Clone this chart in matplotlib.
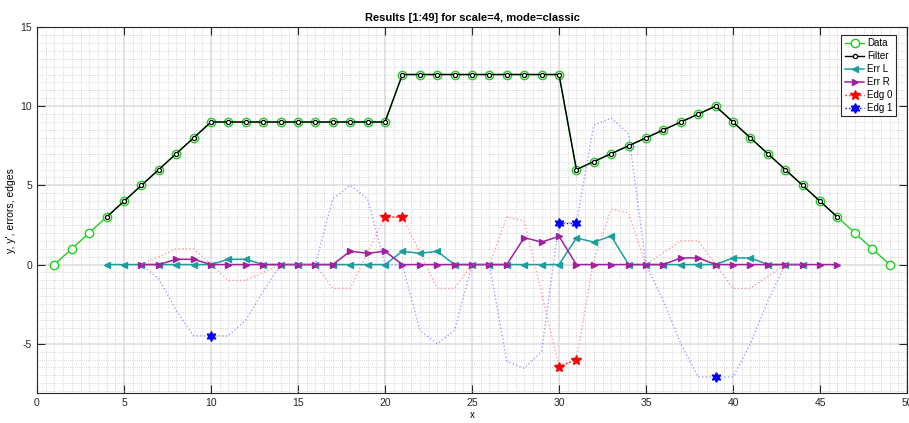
import numpy as np
import matplotlib
matplotlib.use("Agg")
import matplotlib.pyplot as plt
from matplotlib.ticker import MultipleLocator

plt.rcParams['font.family'] = ['Liberation Sans', 'DejaVu Sans']
plt.rcParams['axes.unicode_minus'] = False

# data
x_data = np.arange(1, 50)
y_data = [0, 1, 2, 3, 4, 5, 6, 7, 8, 9,
          9, 9, 9, 9, 9, 9, 9, 9, 9, 9,
          12, 12, 12, 12, 12, 12, 12, 12, 12, 12,
          6, 6.5, 7, 7.5, 8, 8.5, 9, 9.5, 10,
          9, 8, 7, 6, 5, 4, 3, 2, 1, 0]

x_filter = np.arange(4, 47)
y_filter = y_data[3:46]

x_errl = np.arange(4, 45)
y_errl = [0, 0, 0, 0, 0, 0, 0, 0.33, 0.33, 0,
          0, 0, 0, 0, 0, 0, 0, 0.84, 0.71, 0.84,
          0, 0, 0, 0, 0, 0, 0, 1.68, 1.42, 1.8,
          0, 0, 0, 0, 0, 0, 0.42, 0.42, 0, 0, 0]

x_errr = np.arange(6, 47)
y_errr = [0, 0, 0.33, 0.33, 0, 0, 0, 0, 0, 0,
          0, 0, 0.84, 0.71, 0.84, 0, 0, 0, 0, 0,
          0, 0, 1.7, 1.42, 1.78, 0, 0, 0, 0, 0,
          0, 0.42, 0.42, 0, 0, 0, 0, 0, 0, 0, 0]

x_edg = np.arange(6, 45)
y_edg0 = [0, 0.5, 1.0, 1.0, 0, -1.0, -1.0, -0.5, 0, 0,
          0, -1.5, -1.5, 0.75, 3.0, 3.0, 0.75, -1.5, -1.5, 0,
          0, 3.0, 2.75, -1.8, -6.45, -6.0, 0.3, 3.5, 3.25, 0,
          0.75, 1.5, 1.5, 0, -1.5, -1.5, -0.75, 0, 0]
y_edg1 = [0, -0.9, -2.9, -4.5, -4.5, -4.5, -3.5, -1.7, 0, 0,
          0, 4.15, 5.0, 4.15, 0, 0, -4.15, -5.0, -4.15, 0,
          0, -6.1, -6.55, -5.5, 2.65, 2.65, 8.8, 9.25, 8.25, 0,
          -2.3, -5.0, -7.1, -7.1, -7.1, -5.0, -2.3, 0, 0]

# edge positions (markers)
edg0_x = [20, 21, np.nan, 30, 31]
edg0_y = [3.0, 3.0, np.nan, -6.45, -6.0]
edg1_x = [10, np.nan, 30, 31, np.nan, 39]
edg1_y = [-4.5, np.nan, 2.65, 2.65, np.nan, -7.1]

fig = plt.figure(figsize=(9.09, 4.23), dpi=100)
ax = fig.add_axes([37/909, 1 - 393.3/423, 870/909, 366.3/423])

ax.plot(x_data, y_data, '-o', color='#22cc22', mfc='white', mec='#22cc22',
        ms=6, lw=1, label='Data')
ax.plot(x_filter, y_filter, '-o', color='black', mfc='white', mec='black',
        ms=3, mew=0.9, lw=1, label='Filter')
ax.plot(x_errl, y_errl, '-<', color='#1a9e9e', ms=4, lw=1.1, label='Err L')
ax.plot(x_errr, y_errr, '->', color='#a020a0', ms=4, lw=1.1, label='Err R')

ax.plot(x_edg, y_edg0, ':', color='#ff6060', alpha=0.6, lw=1)
ax.plot(x_edg, y_edg1, ':', color='#6060ff', alpha=0.6, lw=1)
ax.plot(edg0_x, edg0_y, ':*', color='red', ms=7, lw=1, label='Edg 0')
ax.plot(edg1_x, edg1_y, ':', marker=(6, 1, 0), color='blue', ms=7, lw=1,
        label='Edg 1')

ax.set_xlim(0, 50)
ax.set_ylim(-8.13, 15)
ax.xaxis.set_major_locator(MultipleLocator(5))
ax.yaxis.set_major_locator(MultipleLocator(5))
ax.xaxis.set_minor_locator(MultipleLocator(0.5))
ax.yaxis.set_minor_locator(MultipleLocator(0.5))
ax.set_axisbelow(True)
ax.grid(which='major', color='#dedede', lw=1.2, ls='-')
ax.grid(which='minor', color='#c8c8c8', lw=0.6, ls=':')
ax.tick_params(which='major', direction='in', top=True, right=True,
               length=6, width=0.8, labelsize=7.5, colors='#262626')
ax.tick_params(which='minor', length=0)
for s in ax.spines.values():
    s.set_color('#262626')
    s.set_linewidth(0.8)

ax.set_title('Results [1:49] for scale=4, mode=classic', fontsize=8,
             fontweight='bold', pad=4)
ax.set_xlabel('x', fontsize=7, labelpad=1)
ax.set_ylabel("y, y', errors, edges", fontsize=7.5, labelpad=3)

leg = ax.legend(loc='upper right', bbox_to_anchor=((896 - 37)/870, (393.3 - 35)/366.3),
                borderaxespad=0, fontsize=7, fancybox=False, framealpha=1,
                edgecolor='#262626', handlelength=2.0, labelspacing=0.3,
                borderpad=0.35, handletextpad=0.3)
leg.get_frame().set_linewidth(0.8)

fig.savefig('out.png', dpi=100)
